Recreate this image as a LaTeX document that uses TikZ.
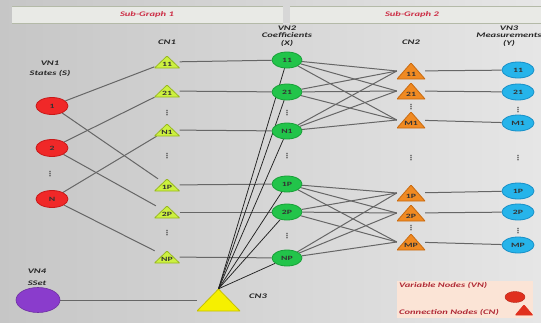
\documentclass[tikz,border=0pt]{standalone}
\usepackage{fontspec}
\setmainfont{Carlito}[FakeStretch=1.5]
\newfontfamily\dotfont{DejaVu Sans}
\usetikzlibrary{backgrounds,shapes.geometric}
\definecolor{bgL}{HTML}{C6C6C6}
\definecolor{bgR}{HTML}{E6E6E6}
\definecolor{hdrfill}{HTML}{E9EAE6}
\definecolor{hdrline}{HTML}{B4BAA8}
\definecolor{sgred}{HTML}{CC2C44}
\definecolor{vnred}{HTML}{F02828}
\definecolor{vnredD}{HTML}{C81818}
\definecolor{vngreen}{HTML}{22C44A}
\definecolor{vngreenD}{HTML}{18A038}
\definecolor{vnblue}{HTML}{26B4EA}
\definecolor{vnblueD}{HTML}{1890C8}
\definecolor{vnpurple}{HTML}{8A3CCC}
\definecolor{cnlime}{HTML}{CCF040}
\definecolor{cnlimeD}{HTML}{98B820}
\definecolor{cnorange}{HTML}{F08A22}
\definecolor{cnorangeD}{HTML}{C86A10}
\definecolor{cnyellow}{HTML}{F6F000}
\definecolor{edgegray}{HTML}{666666}
\definecolor{edgedark}{HTML}{222222}
\definecolor{legfill}{HTML}{FBE4D6}
\definecolor{legred}{HTML}{B02A36}
\definecolor{legtri}{HTML}{E0301E}
\tikzset{
  lbl/.style={font=\fontsize{7}{7.5}\selectfont\bfseries\itshape, align=center, inner sep=0pt, text=black!85},
  ntxt/.style={font=\fontsize{6.5}{6.5}\selectfont\bfseries, text=black!80},
  vnA/.style={ellipse, draw=vnredD, line width=0.8pt, fill=vnred, minimum width=32pt, minimum height=17pt, inner sep=0pt, ntxt},
  vnB/.style={ellipse, draw=vngreenD, line width=0.8pt, fill=vngreen, minimum width=30pt, minimum height=16pt, inner sep=0pt, ntxt},
  vnC/.style={ellipse, draw=vnblueD, line width=0.8pt, fill=vnblue, minimum width=32pt, minimum height=16pt, inner sep=0pt, ntxt},
  vnD/.style={ellipse, draw=vnpurple!80!black, line width=0.6pt, fill=vnpurple, minimum width=44pt, minimum height=25pt, inner sep=0pt},
  tri/.style 2 args={rectangle, inner sep=0pt, ntxt,
    path picture={\fill[#1, draw=#2, line width=0.8pt]
      (path picture bounding box.south west) -- (path picture bounding box.south east)
      -- (path picture bounding box.north) -- cycle;}},
  cnA/.style={tri={cnlime}{cnlimeD}, minimum width=25pt, minimum height=12pt, text height=8pt, text depth=0pt},
  cnB/.style={tri={cnorange}{cnorangeD}, minimum width=28pt, minimum height=16pt, text height=10pt, text depth=0pt},
  cnC/.style={tri={cnyellow}{cnyellow!80!black}, minimum width=43pt, minimum height=22pt},
  vdots/.style={font=\dotfont\fontsize{7}{7}\selectfont\bfseries, text=black!75, inner sep=0pt},
  edge/.style={draw=edgegray, line width=1pt},
  edgeD/.style={draw=edgedark, line width=0.75pt},
}
\begin{document}
\begin{tikzpicture}[x=1pt,y=-1pt]
\useasboundingbox (0,0) rectangle (541,322);
\clip (0,0) rectangle (541,322);
\begin{scope}[on background layer]
\shade[left color=bgL, right color=bgR] (0,0) rectangle (541,322);
% header bands
\fill[hdrfill] (12,6) rectangle (283,23);
\draw[hdrline, line width=1pt] (12,6) -- (283,6) (12,23) -- (283,23);
\fill[hdrfill] (290,6) rectangle (541,23);
\draw[hdrline, line width=1pt] (290,6) -- (541,6) (290,23) -- (541,23);
\end{scope}
\node[lbl, text=sgred] (sg1) at (147,15) {Sub-Graph 1};
\node[lbl, text=sgred] (sg2) at (412,15) {Sub-Graph 2};

% labels
\node[lbl, font=\fontsize{7}{10}\selectfont\bfseries\itshape] (l1) at (50,69) {VN1\\States (S)};
\node[lbl] (l2) at (167,42) {CN1};
\node[lbl] (l3) at (287,36) {VN2\\Coefficients\\(X)};
\node[lbl] (l4) at (411,42) {CN2};
\node[lbl] (l5) at (509,36) {VN3\\Measurements\\(Y)};
\node[lbl, font=\fontsize{7}{12}\selectfont\bfseries\itshape] (l6) at (37,277) {VN4\\SSet};
\node[lbl] (l7) at (258,296) {CN3};

% VN1
\node[vnA] (s1) at (52,106) {1};
\node[vnA] (s2) at (52,148) {2};
\node[vdots] (sd) at (50,174) {⋮};
\node[vnA] (sN) at (52,199) {N};

% CN1
\node[cnA] (a11) at (167,62) {11};
\node[cnA] (a21) at (167,91) {21};
\node[vdots] (ad1) at (167,113) {⋮};
\node[cnA] (aN1) at (167,130) {N1};
\node[vdots] (ad2) at (167,156) {⋮};
\node[cnA] (a1P) at (167,185) {1P};
\node[cnA] (a2P) at (167,212) {2P};
\node[vdots] (ad3) at (167,233) {⋮};
\node[cnA] (aNP) at (167,257) {NP};

% VN2
\node[vnB] (x11) at (287,60) {11};
\node[vnB] (x21) at (287,92) {21};
\node[vdots] (xd1) at (287,113) {⋮};
\node[vnB] (xN1) at (287,131) {N1};
\node[vdots] (xd2) at (287,156) {⋮};
\node[vnB] (x1P) at (287,184) {1P};
\node[vnB] (x2P) at (287,212) {2P};
\node[vdots] (xd3) at (287,236) {⋮};
\node[vnB] (xNP) at (287,258) {NP};

% CN2
\node[cnB] (b11) at (411,71) {11};
\node[cnB] (b21) at (411,91) {21};
\node[vdots] (bd1) at (411,107) {⋮};
\node[cnB] (bM1) at (411,120) {M1};
\node[vdots] (bd2) at (411,158) {⋮};
\node[cnB] (b1P) at (411,193) {1P};
\node[cnB] (b2P) at (411,213) {2P};
\node[vdots] (bd3) at (411,228) {⋮};
\node[cnB] (bMP) at (411,242) {MP};

% VN3
\node[vnC] (y11) at (518,70) {11};
\node[vnC] (y21) at (518,92) {21};
\node[vdots] (yd1) at (518,110) {⋮};
\node[vnC] (yM1) at (518,123) {M1};
\node[vdots] (yd2) at (518,158) {⋮};
\node[vnC] (y1P) at (518,191) {1P};
\node[vnC] (y2P) at (518,212) {2P};
\node[vdots] (yd3) at (518,231) {⋮};
\node[vnC] (yMP) at (518,245) {MP};

% VN4 and CN3
\node[vnD] (ss) at (38,300) {};
\node[cnC] (c3) at (218.5,300) {};

% legend
\node[rectangle, fill=legfill, minimum width=136pt, minimum height=37pt, inner sep=0pt] (leg) at (465,299.5) {};
\node[lbl, text=legred, anchor=west] (lg1) at (399,285) {Variable Nodes (VN)};
\node[lbl, text=legred, anchor=west] (lg2) at (399,312) {Connection Nodes (CN)};
\node[ellipse, fill=legtri, draw=legtri!80!black, minimum width=20pt, minimum height=11pt, inner sep=0pt] (lge) at (515,297) {};
\node[tri={legtri}{legtri}, minimum width=17pt, minimum height=10pt] (lgt) at (524,310) {};

\begin{scope}[on background layer]
% VN1 - CN1
\draw[edge] (s1) -- (a11); \draw[edge] (s1) -- (a1P);
\draw[edge] (s2) -- (a21); \draw[edge] (s2) -- (a2P);
\draw[edge] (sN) -- (aN1); \draw[edge] (sN) -- (aNP);
% CN1 - VN2
\draw[edge] (a11) -- (x11); \draw[edge] (a21) -- (x21); \draw[edge] (aN1) -- (xN1);
\draw[edge] (a1P) -- (x1P); \draw[edge] (a2P) -- (x2P); \draw[edge] (aNP) -- (xNP);
% CN3
\foreach \t in {x11,x21,xN1,x1P,x2P,xNP} \draw[edgeD] (c3.north) -- (\t);
\draw[edge] (ss) -- (c3);
% VN2 - CN2
\foreach \s in {x11,x21,xN1} \foreach \t in {b11,b21,bM1} \draw[edge] (\s) -- (\t.west);
\foreach \s in {x1P,x2P,xNP} \foreach \t in {b1P,b2P,bMP} \draw[edge] (\s) -- (\t.west);
% CN2 - VN3
\draw[edge] (b11) -- (y11); \draw[edge] (b21) -- (y21); \draw[edge] (bM1) -- (yM1);
\draw[edge] (b1P) -- (y1P); \draw[edge] (b2P) -- (y2P); \draw[edge] (bMP) -- (yMP);
\end{scope}
\end{tikzpicture}
\end{document}
